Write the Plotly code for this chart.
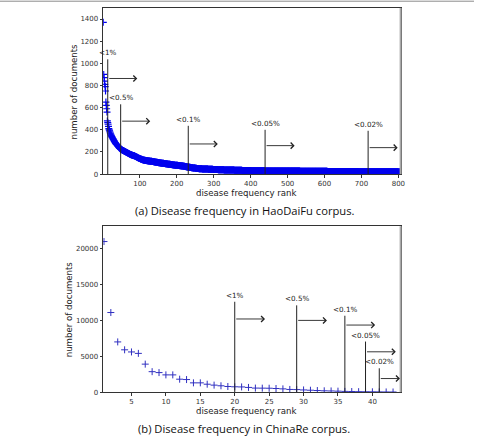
import plotly.graph_objects as go

# ---------------- data ----------------
# (a) HaoDaiFu: documents per disease, by frequency rank
haodaifu_head = [1370, 900, 870, 840, 810, 790, 750, 650, 620, 590, 560, 480, 465, 450, 430, 410, 400, 390, 380, 370,
                 360, 352, 345, 338, 332, 326, 320, 314, 308, 302, 296, 290, 285, 280, 275,
                 271, 267, 263, 259, 255, 251, 247, 243, 239, 235, 232, 229, 226, 224,
                 222, 220, 218, 216, 214, 212, 210, 208, 206, 204, 203, 202, 200,
                 198, 196, 194, 192, 190, 189, 187, 185, 183, 182, 180, 178, 177, 175, 174, 172, 171, 170, 169, 168, 167, 166, 165,
                 164, 162, 160, 158, 156, 155, 153, 151, 149, 148, 146, 144, 143, 141, 140, 138, 137, 135, 134, 133, 131, 130, 129,
                 128, 127, 126, 125]
# tail: document count and how many consecutive diseases share it
haodaifu_tail_values = [124, 123, 122, 121, 120, 119, 118, 117, 116, 115, 114, 113, 112, 111, 110, 109, 108, 107, 106, 105,
                        104, 103, 102, 101, 100, 99, 98, 97, 96, 95, 94, 93, 92, 91, 90, 89, 88, 87,
                        86, 85, 84, 83, 82, 81, 80, 79, 78, 77, 76, 75, 74, 73, 72,
                        71, 70, 69, 68, 67, 66, 65, 64, 63, 62, 61, 60, 59, 58, 57, 56, 55, 54, 53, 52, 51,
                        50, 49, 48, 47, 46, 45, 44, 43, 42, 41, 40, 39, 38, 37, 36, 35, 34, 33, 32, 31, 30,
                        29, 28, 27, 26, 25, 24, 23, 22, 21, 20]
haodaifu_tail_counts = [2, 2, 2, 2, 2, 2, 2, 2, 2, 2, 2, 2, 2, 1, 2, 1, 2, 1, 2, 1,
                        2, 2, 2, 2, 2, 2, 2, 2, 2, 2, 2, 2, 2, 2, 2, 2, 2, 2,
                        2, 2, 2, 2, 2, 3, 2, 3, 2, 3, 2, 3, 2, 3, 2,
                        1, 1, 2, 1, 2, 1, 2, 2, 1, 2, 2, 1, 2, 2, 2, 2, 2, 2, 2, 2, 2,
                        4, 4, 5, 5, 5, 6, 6, 7, 7, 7, 8, 8, 9, 9, 10, 10, 11, 12, 12, 13, 24,
                        30, 32, 34, 36, 38, 40, 44, 48, 60, 20]

# (b) ChinaRe
chinare_counts = [21000, 11100, 7000, 5900, 5600, 5400, 3900, 2850, 2720, 2400, 2400, 1800, 1750, 1290, 1290,
                  1100, 970, 880, 780, 740, 720, 650, 560, 550, 540, 500, 450, 370, 350, 300,
                  260, 220, 180, 160, 130, 100, 80, 60, 50, 40, 30, 20, 15]

# threshold markers: label, rank, top of vertical line, arrow height, arrow end rank
a_labels = ["<1%", "<0.5%", "<0.1%", "<0.05%", "<0.02%"]
a_rank = [13, 48, 231, 439, 718]
a_top = [1036, 630, 436, 400, 391]
a_arrow_y = [863, 478, 272, 257, 239]
a_arrow_end = [93, 128, 311, 519, 798]

b_labels = ["<1%", "<0.5%", "<0.1%", "<0.05%", "<0.02%"]
b_rank = [20, 29, 36, 39, 41]
b_top = [12600, 12100, 10650, 7050, 3320]
b_arrow_y = [10200, 10000, 9350, 5620, 1890]
b_arrow_end = [24.4, 33.4, 40.4, 43.4, 44.0]

a_xticks = [100, 200, 300, 400, 500, 600, 700, 800]
a_yticks = [0, 200, 400, 600, 800, 1000, 1200, 1400]
b_xticks = [5, 10, 15, 20, 25, 30, 35, 40]
b_yticks = [0, 5000, 10000, 15000, 20000]

# ---------------- build ----------------
haodaifu = list(haodaifu_head)
for v, c in zip(haodaifu_tail_values, haodaifu_tail_counts):
    haodaifu += [v] * c
a_x = list(range(1, len(haodaifu) + 1))
b_x = list(range(1, len(chinare_counts) + 1))

W, H = 478, 439
def px(x):
    return x / W
def py(y):
    return 1 - y / H

TICKFONT = dict(family="DejaVu Sans", size=7, color="#333")
fig = go.Figure()

fig.add_trace(go.Scatter(x=a_x, y=haodaifu, mode="markers", xaxis="x", yaxis="y",
                         marker=dict(symbol="cross-thin", size=5, color="#0000ee",
                                     line=dict(width=1.2, color="#0000ee")),
                         showlegend=False, hoverinfo="skip"))
fig.add_trace(go.Scatter(x=b_x, y=chinare_counts, mode="markers", xaxis="x2", yaxis="y2",
                         marker=dict(symbol="cross-thin", size=5, color="#3030c0",
                                     line=dict(width=1, color="#3030c0")),
                         showlegend=False, hoverinfo="skip"))

axis_common = dict(showgrid=False, zeroline=False, showline=True, linecolor="#333", linewidth=1,
                   mirror=True, ticks="outside", ticklen=2.5, tickwidth=1, tickcolor="#333",
                   tickfont=TICKFONT)

fig.update_layout(
    width=W, height=H, margin=dict(l=0, r=0, t=0, b=0),
    paper_bgcolor="white", plot_bgcolor="white",
    xaxis=dict(domain=[px(104), px(404)], range=[0.5, 806], anchor="y",
               tickvals=a_xticks, ticktext=[str(t) for t in a_xticks], **axis_common),
    yaxis=dict(domain=[py(175.7), py(8)], range=[0, 1500], anchor="x",
               tickvals=a_yticks, ticktext=[str(t) for t in a_yticks], **axis_common),
    xaxis2=dict(domain=[px(104), px(404)], range=[0.88, 44.1], anchor="y2",
                tickvals=b_xticks, ticktext=[str(t) for t in b_xticks], **axis_common),
    yaxis2=dict(domain=[py(395.7), py(228.3)], range=[0, 23137], anchor="x2",
                tickvals=b_yticks, ticktext=[str(t) for t in b_yticks], **axis_common),
)

shapes = []
annotations = []

def add_markers(xref, yref, labels, ranks, tops, ays, ends):
    for lab, r, t, ay, e in zip(labels, ranks, tops, ays, ends):
        shapes.append(dict(type="line", xref=xref, yref=yref, x0=r, x1=r, y0=0, y1=t,
                           line=dict(color="#222", width=1)))
        annotations.append(dict(xref=xref, yref=yref, x=r, y=t, text=lab, showarrow=False,
                                xanchor="center", yanchor="bottom", yshift=0,
                                font=dict(family="DejaVu Sans", size=7.2, color="#222")))
        annotations.append(dict(xref=xref, yref=yref, x=e, y=ay, ax=r, ay=ay,
                                axref=xref, ayref=yref, text="", showarrow=True,
                                arrowhead=4, arrowsize=1.3, arrowwidth=0.9, arrowcolor="#222",
                                standoff=0, startstandoff=0))

add_markers("x", "y", a_labels, a_rank, a_top, a_arrow_y, a_arrow_end)
add_markers("x2", "y2", b_labels, b_rank, b_top, b_arrow_y, b_arrow_end)

# light right spines and page rule
shapes.append(dict(type="line", xref="paper", yref="paper", x0=px(404), x1=px(404), y0=py(175.7), y1=py(8),
                   line=dict(color="#a8a8a8", width=2)))
shapes.append(dict(type="line", xref="paper", yref="paper", x0=px(404), x1=px(404), y0=py(395.7), y1=py(228.3),
                   line=dict(color="#a8a8a8", width=2)))
shapes.append(dict(type="line", xref="paper", yref="paper", x0=0, x1=1, y0=py(1.2), y1=py(1.2),
                   line=dict(color="#8a8a8a", width=1)))

LABFONT = dict(family="DejaVu Sans", size=8.6, color="#222")
annotations += [
    dict(xref="paper", yref="paper", x=px(248), y=py(195), text="disease frequency rank", showarrow=False,
         xanchor="center", yanchor="middle", font=LABFONT),
    dict(xref="paper", yref="paper", x=px(75), y=py(92), text="number of documents", showarrow=False,
         xanchor="center", yanchor="middle", textangle=-90, font=LABFONT),
    dict(xref="paper", yref="paper", x=px(248), y=py(414.5), text="disease frequency rank", showarrow=False,
         xanchor="center", yanchor="middle", font=LABFONT),
    dict(xref="paper", yref="paper", x=px(69), y=py(311.7), text="number of documents", showarrow=False,
         xanchor="center", yanchor="middle", textangle=-90, font=LABFONT),
    dict(xref="paper", yref="paper", x=px(247.5), y=py(212.7), text="(a) Disease frequency in HaoDaiFu corpus.",
         showarrow=False, xanchor="center", yanchor="middle",
         font=dict(family="Open Sans", size=11.2, color="#111")),
    dict(xref="paper", yref="paper", x=px(246), y=py(432.3), text="(b) Disease frequency in ChinaRe corpus.",
         showarrow=False, xanchor="center", yanchor="middle",
         font=dict(family="Open Sans", size=11.2, color="#111")),
]

fig.update_layout(shapes=shapes, annotations=annotations)
fig.write_html("out.html")
